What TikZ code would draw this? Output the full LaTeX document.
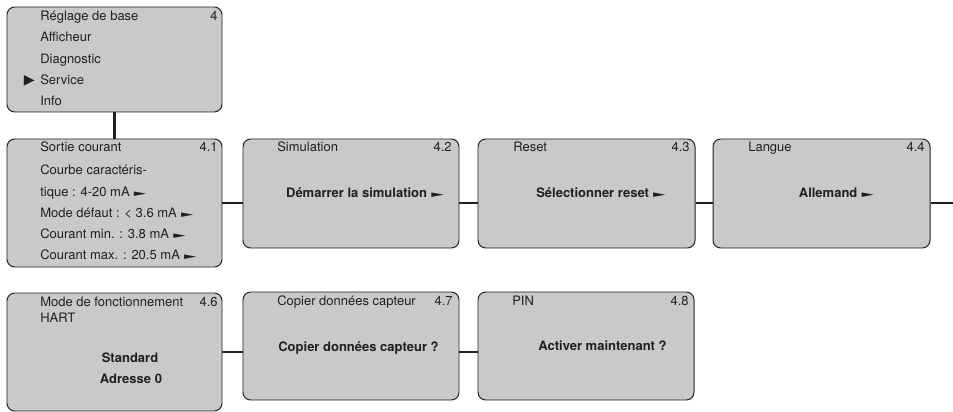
\documentclass[tikz,border=0pt]{standalone}
\usepackage{fontspec}
\setmainfont{TeX Gyre Heros}
\newfontfamily\symbfont{DejaVu Sans}
\usepackage{tikz}
\usetikzlibrary{fit}
\definecolor{panelgray}{RGB}{200,201,203}
\definecolor{inkgray}{RGB}{35,31,32}
\newcommand{\ptr}{\hspace{3pt}{\symbfont\fontsize{8}{9}\selectfont\scalebox{1.45}[0.8]{►}}}
\begin{document}
\begin{tikzpicture}[x=0.25mm, y=-0.25mm,
  panel/.style={draw=inkgray, line width=0.7pt, fill=panelgray, rounded corners=5.5pt, inner sep=0pt},
  link/.style={draw=inkgray, line width=1.9pt},
  lbl/.style={font=\fontsize{9.25}{11}\selectfont, text=inkgray, inner sep=0pt, text height=6.6pt, text depth=0pt},
  entry/.style={lbl, anchor=west},
  num/.style={lbl, anchor=east},
  val/.style={lbl, font=\fontsize{9.25}{11}\selectfont\bfseries}
]
\useasboundingbox (0,0) rectangle (953,412);

% Panels
\node[panel, fit={(7,7) (222,112)}]    (menu) {};
\node[panel, fit={(7,139) (222,267)}]  (b41) {};
\node[panel, fit={(243,139) (459,248)}] (b42) {};
\node[panel, fit={(478,139) (695,248)}] (b43) {};
\node[panel, fit={(713,139) (930,248)}] (b44) {};
\node[panel, fit={(7,293) (222,411)}]  (b46) {};
\node[panel, fit={(243,292) (459,400)}] (b47) {};
\node[panel, fit={(478,292) (694,400)}] (b48) {};
\coordinate (edge) at (953,0);

% Connectors
\draw[link] (menu.south) -- (b41.north);
\draw[link] (b41.east) -- (b41.east -| b42.west);
\draw[link] (b41.east -| b42.east) -- (b41.east -| b43.west);
\draw[link] (b41.east -| b43.east) -- (b41.east -| b44.west);
\draw[link] (b41.east -| b44.east) -- (b41.east -| edge);
\draw[link] (b46.east) -- (b46.east -| b47.west);
\draw[link] (b46.east -| b47.east) -- (b46.east -| b48.west);

% Main menu
\foreach \item [count=\i] in {Réglage de base, Afficheur, Diagnostic, Service, Info}
  \node[entry] (m\i) at (40, {16+21.2*(\i-1)}) {\item};
\node[num] (mnum) at (218,16) {4};
\node[entry, font=\symbfont\fontsize{10}{11}\selectfont] (mark) at (23.5,79.6) {▶};

% 4.1
\node[entry] (b41t) at (40,147)   {Sortie courant};
\node[num]   (b41n) at (218,147)  {4.1};
\node[entry] (b41a) at (40,169.5) {Courbe caractéris-};
\node[entry] (b41b) at (40,191.5) {tique : 4-20 mA\ptr};
\node[entry] (b41c) at (40,212.5) {Mode défaut : < 3.6 mA\ptr};
\node[entry] (b41d) at (40,233.5) {Courant min. : 3.8 mA\ptr};
\node[entry] (b41e) at (40,254.5) {Courant max. : 20.5 mA\ptr};

% 4.2 - 4.4
\node[entry] (b42t) at (277,147) {Simulation};
\node[num]   (b42n) at (452,147) {4.2};
\node[val]   (b42v) at (365,193) {Démarrer la simulation\ptr};
\node[entry] (b43t) at (513,147) {Reset};
\node[num]   (b43n) at (690,147) {4.3};
\node[val]   (b43v) at (601,193) {Sélectionner reset\ptr};
\node[entry] (b44t) at (748,147) {Langue};
\node[num]   (b44n) at (925,147) {4.4};
\node[val]   (b44v) at (836.5,193) {Allemand\ptr};

% 4.6 - 4.8
\node[entry] (b46t) at (40,302)  {Mode de fonctionnement};
\node[entry] (b46h) at (40,318)  {HART};
\node[num]   (b46n) at (218,302) {4.6};
\node[val]   (b46v) at (130,358) {Standard};
\node[val]   (b46w) at (131,379) {Adresse 0};
\node[entry] (b47t) at (277,301) {Copier données capteur};
\node[num]   (b47n) at (453,301) {4.7};
\node[val]   (b47v) at (358.5,347) {Copier données capteur ?};
\node[entry] (b48t) at (512,301) {PIN};
\node[num]   (b48n) at (689,301) {4.8};
\node[val]   (b48v) at (602.5,346) {Activer maintenant ?};
\end{tikzpicture}
\end{document}
